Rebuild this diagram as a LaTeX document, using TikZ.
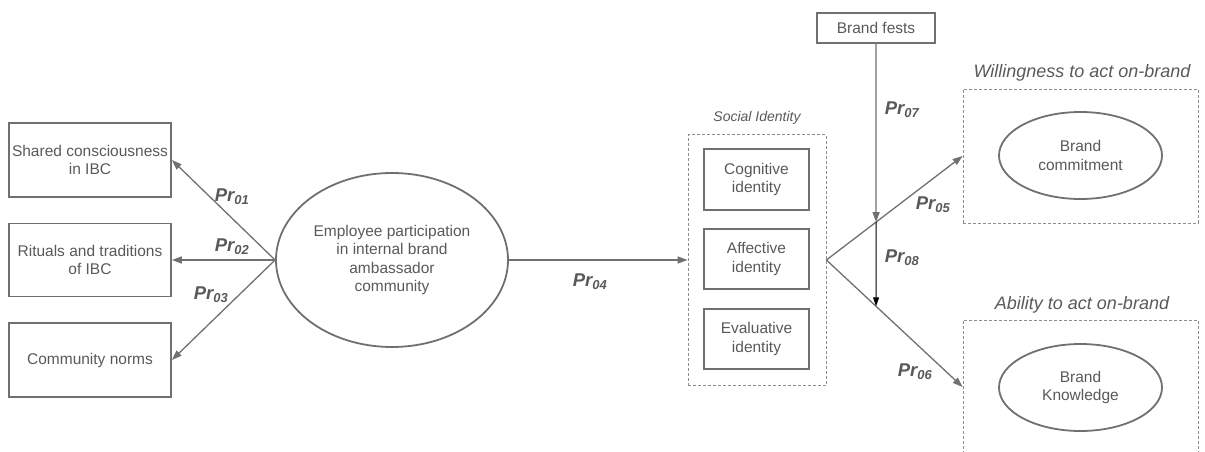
\documentclass[tikz,border=0pt]{standalone}
\usepackage{fontspec}
\setmainfont{Liberation Sans}
\usepackage{xcolor}
\definecolor{LINEcolor}{HTML}{707070}
\definecolor{TEXTcolor}{HTML}{595959}
\definecolor{DASHcolor}{HTML}{8c8c8c}
\usepackage{tikz}
\usetikzlibrary{%
        calc,
        shapes.geometric, % ellipse
        arrows.meta, % arrow tips
    }

\begin{document}
\begin{tikzpicture}[x=1pt, y=-1pt]
    \tikzset{%
        construct/.style={draw=LINEcolor, line width=1.8pt, text=TEXTcolor, align=center, inner sep=0pt,
                font=\fontsize{15.5}{18.3}\selectfont},
        latent/.style={construct, ellipse},
        dashbox/.style={draw=DASHcolor, line width=0.8pt, dash pattern=on 3pt off 2pt, inner sep=0pt},
        grouplabel/.style={text=TEXTcolor, inner sep=0pt, font=\fontsize{18}{20}\selectfont\itshape},
        prlabel/.style={text=TEXTcolor, inner sep=0pt, font=\fontsize{18.5}{20}\selectfont\bfseries\itshape},
        relarrow/.style={draw=LINEcolor, line width=1.3pt, -{Triangle[length=10pt, width=7pt]}},
    }

    \useasboundingbox (0,0) rectangle (1205,452);

    % left constructs
    \node (shared) [construct, minimum width=162pt, minimum height=74pt] at (90,160) {Shared consciousness\\in IBC};
    \node (rituals) [construct, minimum width=162pt, minimum height=73pt] at (90,260) {Rituals and traditions\\of IBC};
    \node (norms) [construct, minimum width=162pt, minimum height=74pt] at (90,360) {Community norms};

    % participation
    \node (emp) [latent, minimum width=232pt, minimum height=174pt] at (392,260) {Employee participation\\in internal brand\\ambassador\\community};

    % social identity
    \node (social) [dashbox, minimum width=138pt, minimum height=251pt] at (757,260) {};
    \node (sociallab) [grouplabel, font=\fontsize{14}{16}\selectfont\itshape] at (757,118) {Social Identity};
    \node (cog) [construct, minimum width=105pt, minimum height=61pt] at (756.5,179.5) {Cognitive\\identity};
    \node (aff) [construct, minimum width=105pt, minimum height=60pt] at (756.5,259) {Affective\\identity};
    \node (eva) [construct, minimum width=105pt, minimum height=60pt] at (756.5,339) {Evaluative\\identity};

    % moderator
    \node (fests) [construct, minimum width=118pt, minimum height=30pt] at (876,28) {Brand fests};

    % outcomes
    \node (willbox) [dashbox, minimum width=235pt, minimum height=134pt] at (1080.5,156) {};
    \node (willlab) [grouplabel] at (1082,73) {Willingness to act on-brand};
    \node (commit) [latent, minimum width=163pt, minimum height=87pt] at (1080.5,155.5) {Brand\\commitment};
    \node (ablebox) [dashbox, minimum width=235pt, minimum height=134pt] at (1080.5,387) {};
    \node (ablelab) [grouplabel] at (1082,305) {Ability to act on-brand};
    \node (know) [latent, minimum width=163pt, minimum height=87pt] at (1080.5,387.5) {Brand\\Knowledge};

    % 交点
    \coordinate (split) at (social.east);
    \coordinate (wtip) at (willbox.west);
    \coordinate (atip) at (ablebox.west);
    \coordinate (ftop) at (fests.south);
    \coordinate (fbot) at ($ (fests.south) + (0, 400) $);
    \coordinate (j05) at (intersection of split--wtip and ftop--fbot);
    \coordinate (j06) at (intersection of split--atip and ftop--fbot);

    % arrows
    \draw [relarrow] (emp.west) -- (shared.east);
    \draw [relarrow] (emp.west) -- (rituals.east);
    \draw [relarrow] (emp.west) -- (norms.east);
    \draw [relarrow] (emp.east) -- (social.west);
    \draw [relarrow] (split) -- (wtip);
    \draw [relarrow] (split) -- (atip);
    \draw [relarrow] (ftop) -- (j05);
    \draw [line width=1pt, -{Triangle[length=9pt, width=6pt]}] (j05) -- (j06);

    % labels
    \node (pr01) [prlabel] at (232,197) {Pr\textsubscript{01}};
    \node (pr02) [prlabel] at (232,247) {Pr\textsubscript{02}};
    \node (pr03) [prlabel] at (211,295) {Pr\textsubscript{03}};
    \node (pr04) [prlabel] at (590,282) {Pr\textsubscript{04}};
    \node (pr05) [prlabel] at (933,205) {Pr\textsubscript{05}};
    \node (pr06) [prlabel] at (915,372) {Pr\textsubscript{06}};
    \node (pr07) [prlabel] at (902,110) {Pr\textsubscript{07}};
    \node (pr08) [prlabel] at (902,258) {Pr\textsubscript{08}};
\end{tikzpicture}
\end{document}
